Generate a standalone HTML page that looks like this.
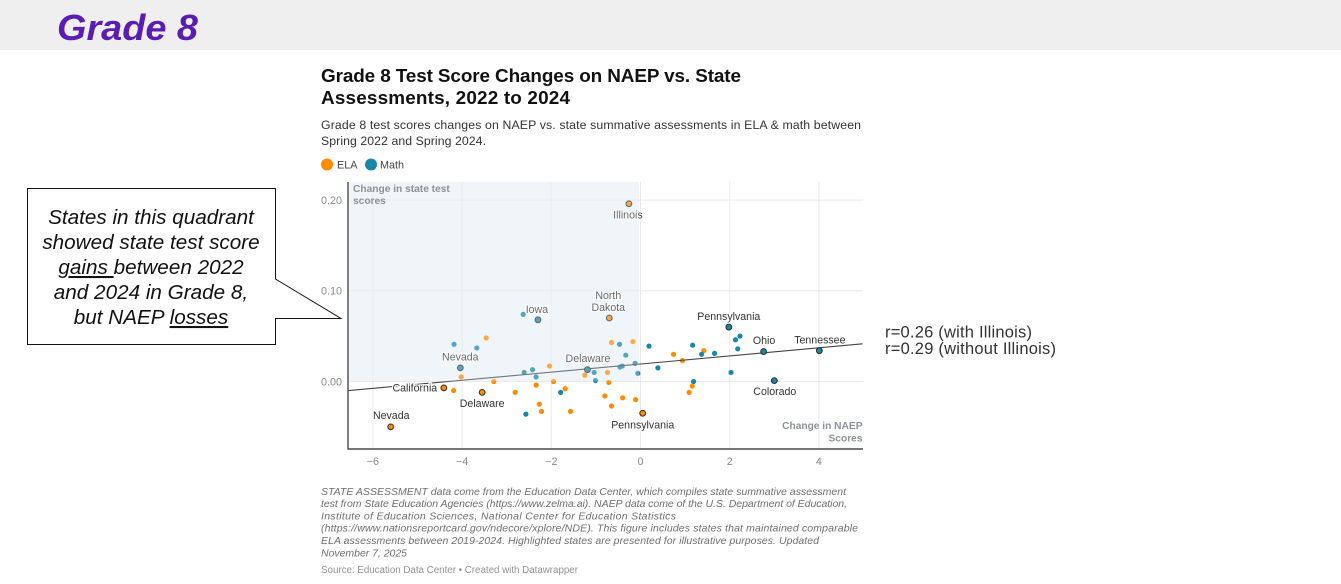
<!DOCTYPE html>
<html lang="en">
<head>
<meta charset="utf-8">
<title>Grade 8 Test Score Changes</title>
<style>
html,body{margin:0;padding:0;background:#fff;width:1341px;height:584px;overflow:hidden}
svg{display:block;font-family:"Liberation Sans",sans-serif;filter:blur(0.3px)}
.tick{font-size:10.8px;fill:#8a8a8a}
.foot{font-size:10.5px;font-style:italic;fill:#6e6e6e}
.call{font-size:20.7px;font-style:italic;fill:#111;text-anchor:middle;white-space:pre}
.lab{font-size:10.6px;text-anchor:middle;stroke:#fff;stroke-width:2.5px;paint-order:stroke;stroke-linejoin:round}
</style>
</head>
<body>
<svg id="page" xmlns="http://www.w3.org/2000/svg" width="1341" height="584" viewBox="0 0 1341 584">
<rect x="0" y="0" width="1341" height="50" fill="#efefef"/>
<text x="57" y="40" font-size="36" font-weight="700" font-style="italic" fill="#5a1db3" textLength="141" lengthAdjust="spacingAndGlyphs">Grade 8</text>

<text x="321" y="82" font-size="18.9" font-weight="700" fill="#111" textLength="420">Grade 8 Test Score Changes on NAEP vs. State</text>
<text x="321" y="104" font-size="18.9" font-weight="700" fill="#111" textLength="249">Assessments, 2022 to 2024</text>
<text x="321" y="129" font-size="12.3" fill="#333" textLength="540">Grade 8 test scores changes on NAEP vs. state summative assessments in ELA &amp; math between</text>
<text x="321" y="145" font-size="12.3" fill="#333" textLength="165">Spring 2022 and Spring 2024.</text>

<g>
<circle cx="327" cy="164.5" r="6" fill="#ff8c00"/>
<text x="337" y="168.5" font-size="10.8" fill="#444">ELA</text>
<circle cx="371" cy="164.5" r="6" fill="#1a86a8"/>
<text x="380" y="168.5" font-size="10.8" fill="#444">Math</text>
</g>

<g id="plot"></g>

<text class="foot" x="321" y="495" textLength="525">STATE ASSESSMENT data come from the Education Data Center, which compiles state summative assessment</text>
<text class="foot" x="321" y="507" textLength="526">test from State Education Agencies (https://www.zelma.ai). NAEP data come of the U.S. Department of Education,</text>
<text class="foot" x="321" y="519.5" textLength="355">Institute of Education Sciences, National Center for Education Statistics</text>
<text class="foot" x="321" y="531.5" textLength="537">(https://www.nationsreportcard.gov/ndecore/xplore/NDE). This figure includes states that maintained comparable</text>
<text class="foot" x="321" y="544" textLength="498">ELA assessments between 2019-2024. Highlighted states are presented for illustrative purposes. Updated</text>
<text class="foot" x="321" y="556.5" textLength="86">November 7, 2025</text>
<text x="321" y="573" font-size="9.8" fill="#929292" textLength="257">Source: Education Data Center • Created with Datawrapper</text>

<g>
<path d="M27.5 188.5H275.5V279L341 318.5L275.5 318.5V344.5H27.5Z" fill="#fff" stroke="#111" stroke-width="1"/>
<text class="call" x="151" y="224">States in this quadrant</text>
<text class="call" x="151" y="249">showed state test score</text>
<text class="call" x="151" y="274"><tspan text-decoration="underline">gains </tspan>between 2022</text>
<text class="call" x="151" y="299">and 2024 in Grade 8,</text>
<text class="call" x="151" y="324">but NAEP <tspan text-decoration="underline">losses</tspan></text>
</g>

<text x="885" y="337.5" font-size="16.5" fill="#333" textLength="147">r=0.26 (with Illinois)</text>
<text x="885" y="354" font-size="16.5" fill="#333" textLength="171">r=0.29 (without Illinois)</text>

<script>
// Chart data
var xTicks = [-6, -4, -2, 0, 2, 4];
var yTicks = [0, 0.1, 0.2];
var yTickLabels = ['0.00', '0.10', '0.20'];
var elaX = [-3.46,-4.02,-4.19,-3.29,-2.81,-2.34,-2.27,-2.22,-2.04,-1.95,-1.69,-1.57,-1.25,-0.8,-0.74,-0.71,-0.65,-0.65,-0.4,-0.17,-0.11,0.74,0.94,1.42,1.16,1.09];
var elaY = [0.048,0.005,-0.01,0,-0.012,-0.004,-0.025,-0.033,0.017,0,-0.008,-0.033,0.007,-0.016,0.01,-0.001,0.043,-0.027,-0.018,0.044,-0.02,0.03,0.023,0.034,-0.005,-0.012];
var mathX = [-2.63,-4.18,-3.67,-2.61,-2.42,-2.34,-2.57,-1.79,-1.04,-1.01,-0.47,-0.33,-0.46,-0.41,-0.12,-0.06,0.19,0.39,1.17,1.37,1.66,1.19,2.03,2.13,2.23,2.18];
var mathY = [0.074,0.041,0.037,0.01,0.013,0.005,-0.036,-0.012,0.01,0.001,0.041,0.029,0.016,0.017,0.02,0.009,0.039,0.015,0.04,0.03,0.031,0,0.01,0.046,0.05,0.036];
var elaStates = ['Illinois','North Dakota','California','Delaware','Nevada','Pennsylvania'];
var elaStateX = [-0.26,-0.7,-4.41,-3.55,-5.6,0.05];
var elaStateY = [0.196,0.07,-0.007,-0.012,-0.05,-0.035];
var mathStates = ['Iowa','Nevada','Delaware','Pennsylvania','Ohio','Tennessee','Colorado'];
var mathStateX = [-2.3,-4.04,-1.19,1.98,2.76,4.01,3];
var mathStateY = [0.068,0.015,0.013,0.06,0.033,0.034,0.001];
var trendX = [-6.57, 4.98];
var trendY = [-0.0101, 0.0415];

// Axis functions
var plotL = 348, plotR = 863, plotT = 182, plotB = 449;
function sx(v) { return 640.5 + v * 44.6; }
function sy(v) { return 381.5 - v * 907; }

var NS = 'http://www.w3.org/2000/svg';
var plot = document.getElementById('plot');
function mk(tag, attrs, parent) {
  var e = document.createElementNS(NS, tag);
  for (var k in attrs) { e.setAttribute(k, attrs[k]); }
  (parent || plot).appendChild(e);
  return e;
}

// Quadrant shade under the marks
var sh = mk('rect', {x: plotL, y: plotT, width: sx(0) - 1.5 - plotL, height: sy(0) - plotT, fill: '#f0f5fa'});



// Gridlines
xTicks.forEach(function (t) {
  var g = mk('line', {x1: sx(t), x2: sx(t), y1: plotT, y2: plotB, stroke: '#e9e9e9', 'stroke-width': 1});
  
  
  var l = mk('text', {x: sx(t), y: 465, 'text-anchor': 'middle', 'class': 'tick'});
  l.textContent = (t < 0 ? '\u2212' + (-t) : String(t));
  
  
});
yTicks.forEach(function (t, i) {
  var g = mk('line', {x1: plotL, x2: plotR, y1: sy(t), y2: sy(t), stroke: '#e9e9e9', 'stroke-width': 1});
  
  
  var l = mk('text', {x: 342, y: sy(t) + 3.8, 'text-anchor': 'end', 'class': 'tick'});
  l.textContent = yTickLabels[i];
  
  
});

// Plain points
function dots(xs, ys, color, name) {
  xs.forEach(function (x, i) {
    var c = mk('circle', {cx: sx(x), cy: sy(ys[i]), r: 2.6, fill: color});
    
    
  });
}
dots(elaX, elaY, '#ff8c00', 'ela-point');
dots(mathX, mathY, '#1a86a8', 'math-point');

// Trend line
var tl = mk('line', {x1: sx(trendX[0]), y1: sy(trendY[0]), x2: sx(trendX[1]), y2: sy(trendY[1]), stroke: '#444', 'stroke-width': 1.1});



// Highlighted points
function hi(xs, ys, color, name) {
  xs.forEach(function (x, i) {
    var c = mk('circle', {cx: sx(x), cy: sy(ys[i]), r: 2.9, fill: color, stroke: '#2b2b2b', 'stroke-width': 1});
    
    
  });
}
hi(elaStateX, elaStateY, '#ff8c00', 'ela-highlight-point');
hi(mathStateX, mathStateY, '#1a86a8', 'math-highlight-point');

// State labels, placed relative to their points
var elaOffsets = {'Illinois':[-1,15],'North Dakota':[-1,-7],'California':[-29,3.5],'Delaware':[0,14.5],'Nevada':[0.5,-8],'Pennsylvania':[0,15.5]};
var mathOffsets = {'Iowa':[-1,-7],'Nevada':[0,-7.5],'Delaware':[0.5,-7.5],'Pennsylvania':[0,-7],'Ohio':[0.5,-7.4],'Tennessee':[0.5,-7],'Colorado':[0.5,14.5]};
function labels(names, xs, ys, offs) {
  names.forEach(function (n, i) {
    var o = offs[n];
    var px = sx(xs[i]) + o[0], py = sy(ys[i]) + o[1];
    var t = mk('text', {x: px, y: py, 'class': 'lab', fill: '#333'});
    if (n === 'North Dakota') {
      mk('tspan', {x: px, dy: -12}, t).textContent = 'North';
      mk('tspan', {x: px, dy: 12}, t).textContent = 'Dakota';
    } else {
      t.textContent = n;
    }
    
    
  });
}
labels(elaStates, elaStateX, elaStateY, elaOffsets);
labels(mathStates, mathStateX, mathStateY, mathOffsets);

// Light wash over the shaded quadrant, which slightly mutes its marks
var wash = mk('rect', {x: plotL, y: plotT, width: sx(0) - 1.5 - plotL, height: sy(0) - plotT, fill: '#f0f5fa', 'fill-opacity': 0.28});



// Axis lines
var ya = mk('line', {x1: plotL, x2: plotL, y1: plotT, y2: plotB + 0.5, stroke: '#4a4a4a', 'stroke-width': 1.4});


var xa = mk('line', {x1: plotL, x2: plotR, y1: plotB, y2: plotB, stroke: '#4a4a4a', 'stroke-width': 1.4});



// Axis captions
function cap(txt, x, y, anchor, name) {
  var c = mk('text', {x: x, y: y, 'text-anchor': anchor, 'font-size': 10.2, 'font-weight': 700, fill: '#8d9296'});
  c.textContent = txt;
  
  
}
cap('Change in state test', 353, 192, 'start', 'y-axis-title-line-1');
cap('scores', 353, 204, 'start', 'y-axis-title-line-2');
cap('Change in NAEP', 862.5, 429, 'end', 'x-axis-title-line-1');
cap('Scores', 862.5, 441.5, 'end', 'x-axis-title-line-2');
</script>
</svg>
</body>
</html>
